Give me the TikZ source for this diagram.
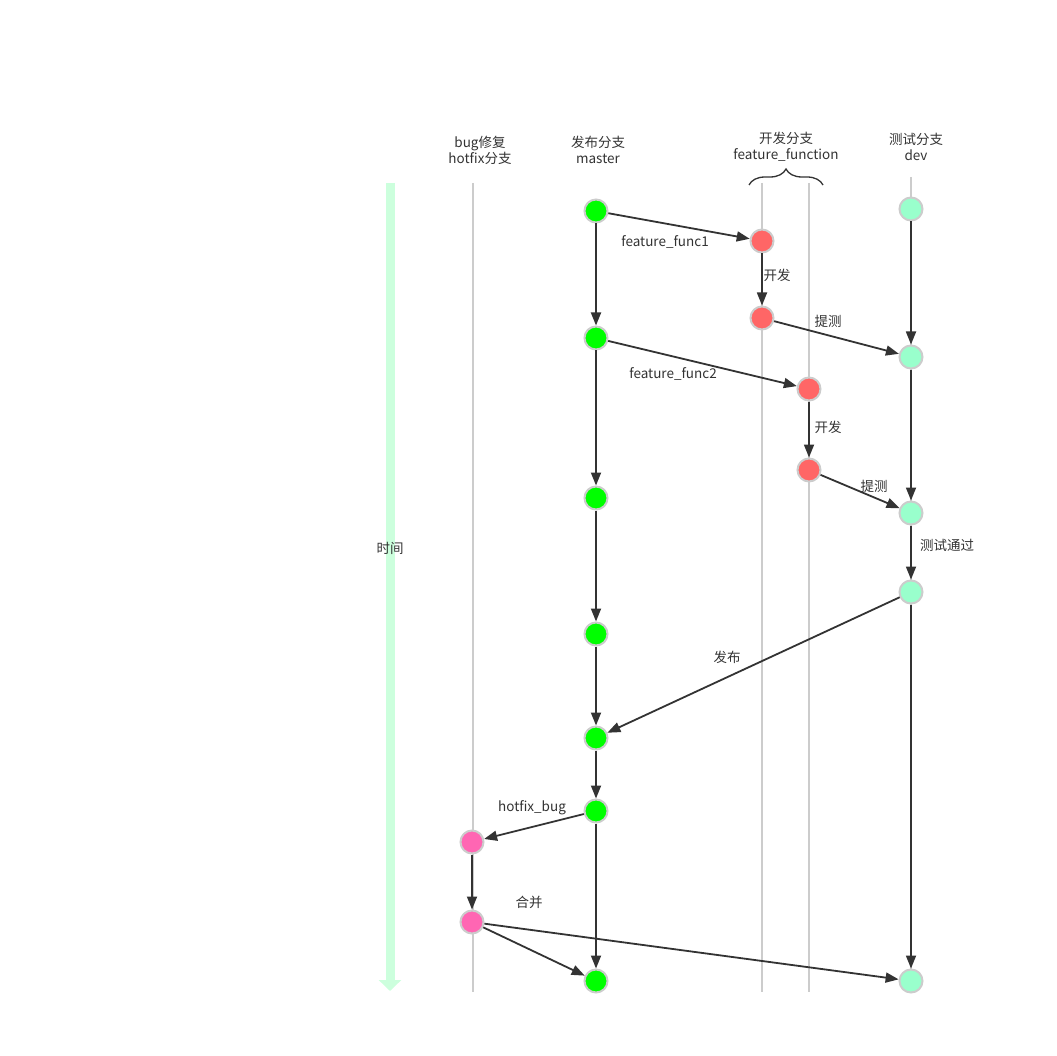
\documentclass[tikz,border=0pt]{standalone}
\usepackage{fontspec}
\setmainfont{Noto Sans CJK SC}
\usetikzlibrary{arrows.meta}
\usetikzlibrary{decorations.pathreplacing}

\definecolor{mastergreen}{HTML}{00FF00}
\definecolor{featurered}{HTML}{FF6666}
\definecolor{devmint}{HTML}{99FFCC}
\definecolor{hotfixpink}{HTML}{FF66B3}
\definecolor{lanegray}{HTML}{CCCCCC}
\definecolor{timegreen}{HTML}{CCFFDD}
\definecolor{inkgray}{HTML}{333333}

\tikzset{
    commit/.style={circle, draw=lanegray, line width=2pt, minimum size=23pt, inner sep=0pt},
    lane/.style={draw=lanegray, line width=1.6pt},
    flow/.style={-{Triangle[length=13pt,width=10pt]}, draw=inkgray, fill=inkgray, line width=1.8pt},
    lbl/.style={text=inkgray, font=\fontsize{13.5}{16}\selectfont, inner sep=1pt, align=center},
}

\begin{document}
\begin{tikzpicture}[x=1pt,y=-1pt]
            \useasboundingbox (0,0) rectangle (1057,1056);
            % time axis
            \draw[timegreen, line width=9pt, -{Triangle[length=11pt,width=22pt]}] (390,183) -- (390,991);
            \node[lbl] (l_time) at (390,548) {时间};
            % lanes
            \draw[lane] (473,183) -- (473,992);
            \draw[lane] (762,183) -- (762,992);
            \draw[lane] (809,183) -- (809,992);
            \draw[lane] (911,177) -- (911,992);
            \draw[inkgray, line width=1.3pt, decorate, decoration={brace, amplitude=16pt}] (749,185) -- (823,185);
            % branch titles
            \node[lbl] (t_hotfix)  at (480,150) {bug修复\\hotfix分支};
            \node[lbl] (t_master)  at (598,150) {发布分支\\master};
            \node[lbl] (t_feature) at (786,147) {开发分支\\feature\_function};
            \node[lbl] (t_dev)     at (916,147) {测试分支\\dev};
            % commits
            \node[commit, fill=mastergreen] (m_1) at (596,211) {};
            \node[commit, fill=mastergreen] (m_2) at (596,338) {};
            \node[commit, fill=mastergreen] (m_3) at (596,498) {};
            \node[commit, fill=mastergreen] (m_4) at (596,634) {};
            \node[commit, fill=mastergreen] (m_5) at (596,738) {};
            \node[commit, fill=mastergreen] (m_6) at (596,811) {};
            \node[commit, fill=mastergreen] (m_7) at (596,981) {};
            \node[commit, fill=featurered]  (f_1) at (762,241) {};
            \node[commit, fill=featurered]  (f_2) at (762,318) {};
            \node[commit, fill=featurered]  (f_3) at (809,389) {};
            \node[commit, fill=featurered]  (f_4) at (809,470) {};
            \node[commit, fill=devmint]     (d_1) at (911,209) {};
            \node[commit, fill=devmint]     (d_2) at (911,357) {};
            \node[commit, fill=devmint]     (d_3) at (911,513) {};
            \node[commit, fill=devmint]     (d_4) at (911,592) {};
            \node[commit, fill=devmint]     (d_5) at (911,981) {};
            \node[commit, fill=hotfixpink]  (h_1) at (472,842) {};
            \node[commit, fill=hotfixpink]  (h_2) at (472,922) {};
            % flows
            \path[flow]
            (m_1) edge (m_2)
            (m_2) edge (m_3)
            (m_3) edge (m_4)
            (m_4) edge (m_5)
            (m_5) edge (m_6)
            (m_6) edge (m_7)
            (m_1) edge (f_1)
            (f_1) edge (f_2)
            (f_2) edge (d_2)
            (m_2) edge (f_3)
            (f_3) edge (f_4)
            (f_4) edge (d_3)
            (d_1) edge (d_2)
            (d_2) edge (d_3)
            (d_3) edge (d_4)
            (d_4) edge (d_5)
            (d_4) edge (m_5)
            (m_6) edge (h_1)
            (h_1) edge (h_2)
            (h_2) edge (m_7)
            (h_2) edge (d_5);
            % flow labels
            \node[lbl] (l_ff1)  at (665,242) {feature\_func1};
            \node[lbl] (l_dev1) at (777,275) {开发};
            \node[lbl] (l_tst1) at (828,321) {提测};
            \node[lbl] (l_ff2)  at (673,374) {feature\_func2};
            \node[lbl] (l_dev2) at (828,427) {开发};
            \node[lbl] (l_tst2) at (874,486) {提测};
            \node[lbl] (l_pass) at (947,545) {测试通过};
            \node[lbl] (l_rel)  at (727,657) {发布};
            \node[lbl] (l_hfb)  at (532,808) {hotfix\_bug};
            \node[lbl] (l_mrg)  at (529,902) {合并};
        \end{tikzpicture}
\end{document}
